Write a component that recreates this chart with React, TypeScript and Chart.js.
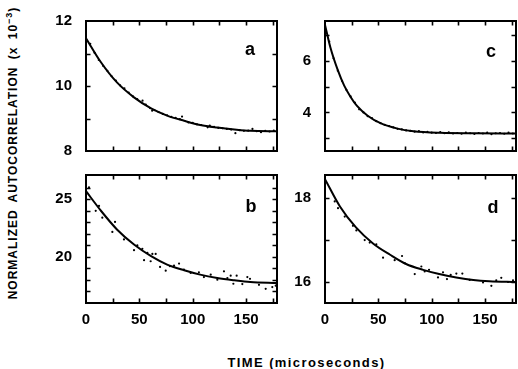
import React, { useEffect, useRef } from 'react';
import { Chart, registerables } from 'chart.js';
Chart.register(...registerables);

// ---- Data (time in microseconds, autocorrelation x 10^-3) ----
const curveXA = [0, 14, 29, 45, 61, 76, 92, 107, 123, 139, 154, 179];
const curveYA = [11.47, 10.73, 10.11, 9.65, 9.31, 9.09, 8.93, 8.8, 8.72, 8.66, 8.62, 8.61];
const dotXA = [4, 8, 12, 16, 20, 24, 28, 32, 36, 40, 44, 48, 53, 56, 60, 62, 64, 68, 72, 76, 80, 84, 88, 90, 96, 100, 104, 108, 114, 116, 120, 124, 128, 132, 136, 140, 144, 148, 152, 156, 160, 164, 168, 172, 176];
const dotYA = [11.3, 11.02, 10.8, 10.62, 10.47, 10.3, 10.17, 10.02, 9.93, 9.8, 9.68, 9.6, 9.55, 9.43, 9.32, 9.24, 9.26, 9.2, 9.14, 9.1, 9.05, 9.02, 8.98, 9.06, 8.88, 8.87, 8.82, 8.8, 8.73, 8.78, 8.74, 8.71, 8.7, 8.68, 8.66, 8.55, 8.64, 8.62, 8.63, 8.68, 8.61, 8.58, 8.62, 8.6, 8.63];

const curveXB = [0, 14, 29, 45, 61, 76, 92, 107, 123, 139, 154, 179];
const curveYB = [25.7, 24.0, 22.38, 21.07, 20.06, 19.33, 18.84, 18.46, 18.17, 17.97, 17.82, 17.73];
const dotXB = [2.8, 9.1, 12.2, 15.3, 24.7, 27.2, 35.6, 45, 48.1, 52.8, 54.4, 57.5, 60.6, 62.2, 65.3, 69.4, 74.7, 78.7, 82.5, 87.2, 91.8, 98.1, 105.8, 110.5, 116.9, 123.1, 129.3, 132.5, 135.6, 138.1, 141.2, 146.5, 151.2, 153.7, 162.1, 168.4, 174.6, 177.8];
const dotYB = [26.02, 23.99, 24.42, 23.4, 22.16, 23.03, 21.51, 20.58, 20.99, 20.7, 19.71, 20.35, 19.62, 20.26, 20.26, 19.13, 18.8, 19.19, 19.24, 19.42, 18.89, 18.6, 18.66, 18.25, 18.46, 18.02, 18.75, 18.17, 18.37, 17.67, 18.37, 17.64, 18.25, 18.1, 17.58, 17.23, 17.38, 17.5];

const curveXC = [0, 5, 12, 18, 24, 30, 40, 52, 68, 83, 108, 140, 179];
const curveYC = [7.4, 6.53, 5.64, 5.04, 4.6, 4.25, 3.87, 3.58, 3.37, 3.27, 3.21, 3.19, 3.18];
const dotXC = [4, 8, 12, 16, 20, 24, 28, 32, 36, 40, 44, 48, 52, 56, 60, 64, 68, 72, 76, 80, 84, 88, 92, 96, 100, 104, 108, 112, 116, 120, 124, 128, 132, 136, 140, 144, 148, 152, 156, 160, 164, 168, 172, 176];
const dotYC = [6.75, 6.1, 5.62, 5.22, 4.88, 4.62, 4.38, 4.12, 4.0, 3.85, 3.78, 3.66, 3.58, 3.52, 3.47, 3.42, 3.36, 3.34, 3.3, 3.28, 3.25, 3.27, 3.22, 3.24, 3.21, 3.2, 3.23, 3.19, 3.22, 3.18, 3.2, 3.17, 3.21, 3.19, 3.16, 3.2, 3.18, 3.21, 3.15, 3.19, 3.2, 3.17, 3.21, 3.18];

const curveXD = [0, 14, 29, 45, 61, 76, 92, 107, 123, 139, 154, 179];
const curveYD = [18.45, 17.8, 17.3, 16.92, 16.65, 16.43, 16.29, 16.19, 16.11, 16.05, 16.02, 16.0];
const dotXD = [9.1, 12.2, 18.5, 26.2, 29.4, 37.2, 41.9, 48.1, 54.4, 65.3, 72.2, 74.7, 84.1, 90.3, 93.4, 97.5, 105.9, 110.6, 114.3, 117.8, 123.1, 128.7, 135.6, 148.1, 155.9, 160.5, 165.2, 171.5, 176.2];
const dotYD = [17.92, 17.76, 17.56, 17.34, 17.23, 17.0, 16.94, 16.9, 16.58, 16.52, 16.62, 16.45, 16.19, 16.37, 16.25, 16.29, 16.11, 16.23, 16.07, 16.17, 16.2, 16.2, 16.05, 15.99, 15.91, 16.04, 16.1, 16.0, 16.04];

const xMin = 0;
const xMax = 179;
const xMinorStep = 25;
const xLabelStep = 50;

const FONT = '"Liberation Sans", Arial, Helvetica, sans-serif';

const framePlugin = {
  id: 'frameTicks',
  afterDatasetsDraw(chart: any) {
    const { ctx, chartArea: a, scales } = chart;
    const x = scales.x;
    const y = scales.y;
    ctx.save();
    ctx.strokeStyle = '#000';
    ctx.lineWidth = 1.6;
    const L = 4.5;
    ctx.beginPath();
    x.ticks.forEach((t: any) => {
      const px = Math.round(x.getPixelForValue(t.value)) + 0.5;
      if (px <= a.left + 2 || px >= a.right - 2) return;
      ctx.moveTo(px, a.bottom);
      ctx.lineTo(px, a.bottom - L);
      ctx.moveTo(px, a.top);
      ctx.lineTo(px, a.top + L);
    });
    y.ticks.forEach((t: any) => {
      const py = Math.round(y.getPixelForValue(t.value)) + 0.5;
      if (py <= a.top + 2 || py >= a.bottom - 2) return;
      ctx.moveTo(a.left, py);
      ctx.lineTo(a.left + L, py);
      ctx.moveTo(a.right, py);
      ctx.lineTo(a.right - L, py);
    });
    ctx.stroke();
    ctx.lineWidth = 2;
    ctx.strokeRect(a.left, a.top, a.right - a.left, a.bottom - a.top);
    ctx.restore();
  },
};

type PanelDef = {
  letter: string;
  left: number;
  top: number;
  w: number;
  h: number;
  yMin: number;
  yMax: number;
  yLabelStep: number;
  showX: boolean;
  cx: number[];
  cy: number[];
  dx: number[];
  dy: number[];
  lx: number;
  ly: number;
};

const panels: PanelDef[] = [
  { letter: 'a', left: 86, top: 21, w: 191, h: 130, yMin: 8, yMax: 12, yLabelStep: 2, showX: false, cx: curveXA, cy: curveYA, dx: dotXA, dy: dotYA, lx: 250, ly: 50 },
  { letter: 'b', left: 86, top: 175, w: 191, h: 128, yMin: 16, yMax: 27.1, yLabelStep: 5, showX: true, cx: curveXB, cy: curveYB, dx: dotXB, dy: dotYB, lx: 251, ly: 206 },
  { letter: 'c', left: 325, top: 21, w: 191, h: 130, yMin: 2.5, yMax: 7.55, yLabelStep: 2, showX: false, cx: curveXC, cy: curveYC, dx: dotXC, dy: dotYC, lx: 491, ly: 52 },
  { letter: 'd', left: 325, top: 175, w: 191, h: 128, yMin: 15.5, yMax: 18.55, yLabelStep: 2, showX: true, cx: curveXD, cy: curveYD, dx: dotXD, dy: dotYD, lx: 493, ly: 207 },
];

const PAD_T = 28;
const PAD_R = 14;
const Y_W = 50;
const X_H = 32;

function Panel({ p }: { p: PanelDef }) {
  const ref = useRef<HTMLCanvasElement>(null);
  useEffect(() => {
    const tickFont = { family: FONT, size: 15, weight: 'bold' as const };
    const chart = new Chart(ref.current as HTMLCanvasElement, {
      type: 'scatter',
      data: {
        datasets: [
          {
            type: 'line',
            data: p.cx.map((x, i) => ({ x, y: p.cy[i] })),
            borderColor: '#000',
            borderWidth: 2,
            pointRadius: 0,
            cubicInterpolationMode: 'monotone',
            fill: false,
          } as any,
          {
            type: 'scatter',
            data: p.dx.map((x, i) => ({ x, y: p.dy[i] })),
            backgroundColor: '#000',
            borderWidth: 0,
            pointRadius: 1.1,
          } as any,
        ],
      },
      options: {
        responsive: false,
        animation: false,
        events: [],
        layout: { padding: { top: PAD_T, right: PAD_R, left: 0, bottom: 0 } },
        plugins: { legend: { display: false }, tooltip: { enabled: false } },
        scales: {
          x: {
            type: 'linear',
            min: xMin,
            max: xMax,
            grid: { display: false, drawTicks: false },
            border: { display: false },
            ticks: {
              display: p.showX,
              stepSize: xMinorStep,
              includeBounds: false,
              autoSkip: false,
              maxRotation: 0,
              padding: 8,
              color: '#000',
              font: tickFont,
              callback: (v: any) => (Number(v) % xLabelStep === 0 ? String(v) : ''),
            },
            afterFit: (s: any) => {
              s.height = X_H;
            },
          } as any,
          y: {
            type: 'linear',
            min: p.yMin,
            max: p.yMax,
            grid: { display: false, drawTicks: false },
            border: { display: false },
            ticks: {
              stepSize: 1,
              includeBounds: false,
              autoSkip: false,
              padding: 14,
              color: '#000',
              font: tickFont,
              callback: (v: any) => (Number(v) % p.yLabelStep === 0 ? String(v) : ''),
            },
            afterFit: (s: any) => {
              s.width = Y_W;
            },
          } as any,
        },
      },
      plugins: [framePlugin],
    });
    return () => chart.destroy();
  }, []);
  return (
    <canvas
      ref={ref}
      width={Y_W + p.w + PAD_R}
      height={PAD_T + p.h + X_H}
      style={{ position: 'absolute', left: p.left - Y_W, top: p.top - PAD_T }}
    />
  );
}

export default function App() {
  return (
    <div
      style={{
        position: 'fixed',
        left: 0,
        top: 0,
        width: 518,
        height: 369,
        background: '#fff',
        overflow: 'hidden',
        fontFamily: FONT,
        color: '#000',
      }}
    >
      {panels.map((p) => (
        <Panel key={p.letter} p={p} />
      ))}
      {panels.map((p) => (
        <div
          key={'l' + p.letter}
          style={{
            position: 'absolute',
            left: p.lx,
            top: p.ly - (p.letter === 'a' || p.letter === 'c' ? 1.5 : 0),
            transform: 'translate(-50%, -50%)',
            fontSize: 18,
            fontWeight: 'bold',
            lineHeight: 1,
          }}
        >
          {p.letter}
        </div>
      ))}
      <div
        style={{
          position: 'absolute',
          left: 12.5,
          top: 152.5,
          transform: 'translate(-50%, -50%) rotate(-90deg)',
          whiteSpace: 'nowrap',
          fontSize: 12,
          fontWeight: 'bold',
          letterSpacing: 1,
          wordSpacing: 3,
          lineHeight: 1,
        }}
      >
        NORMALIZED AUTOCORRELATION (x 10<sup style={{ fontSize: 9, lineHeight: 0 }}>−3</sup>)
      </div>
      <div
        style={{
          position: 'absolute',
          left: 306.5,
          top: 362,
          transform: 'translate(-50%, -50%)',
          whiteSpace: 'nowrap',
          fontSize: 13,
          fontWeight: 'bold',
          letterSpacing: 1.4,
          lineHeight: 1,
        }}
      >
        TIME (microseconds)
      </div>
    </div>
  );
}
